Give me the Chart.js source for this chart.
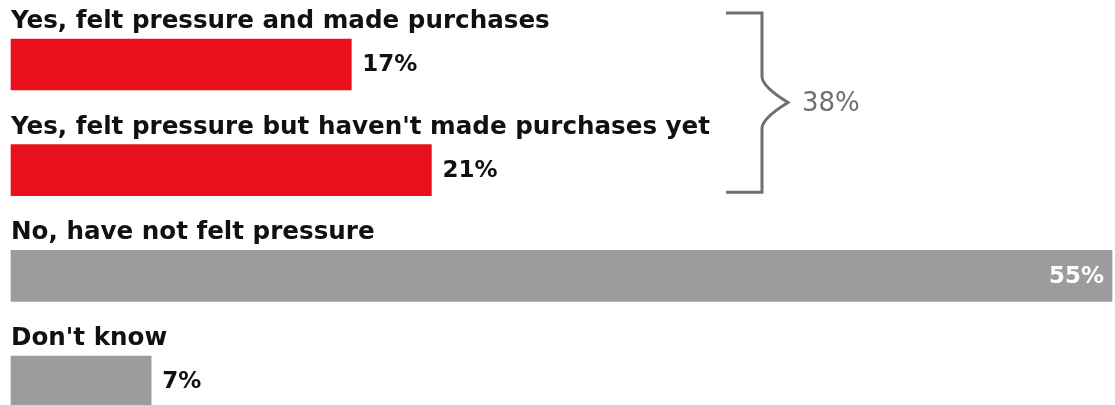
<!DOCTYPE html>
<html>
<head>
<meta charset="utf-8">
<script src="https://cdn.jsdelivr.net/npm/chart.js@4.4.1/dist/chart.umd.min.js"></script>
<style>
    html, body { margin: 0; padding: 0; background: #fff; }
    #wrap { width: 1115px; height: 405px; position: relative; }
</style>
</head>
<body>
<div id="wrap"><canvas id="barChart"></canvas></div>
<script>
// survey answers, top to bottom
const categories = [
    'Yes, felt pressure and made purchases',
    "Yes, felt pressure but haven't made purchases yet",
    'No, have not felt pressure',
    "Don't know"
];
const shares = [17, 21, 55, 7];
const barColors = ['#e8111b', '#e8111b', '#9c9c9c', '#9c9c9c'];
// the two "yes" answers get a brace with their total
const bracketRows = [0, 1];

const FONT = '"DejaVu Sans", sans-serif';

// labels, values and the brace are drawn straight on the canvas
const labelPlugin = {
    id: 'labelPlugin',
    afterDatasetsDraw(chart) {
        const ctx = chart.ctx;
        const meta = chart.getDatasetMeta(0);
        const area = chart.chartArea;
        ctx.save();

        meta.data.forEach((bar, i) => {
            const top = bar.y - bar.height / 2;

            // category name above the bar
            ctx.fillStyle = '#111';
            ctx.font = 'bold 24.6px ' + FONT;
            ctx.textAlign = 'left';
            ctx.textBaseline = 'alphabetic';
            ctx.fillText(categories[i], area.left, top - 11);

            // value: inside the bar when it is wide, otherwise after it
            const txt = shares[i] + '%';
            ctx.font = 'bold 23px ' + FONT;
            ctx.textBaseline = 'middle';
            if (bar.x - bar.base > area.width * 0.8) {
                ctx.fillStyle = '#fff';
                ctx.textAlign = 'right';
                ctx.fillText(txt, bar.x - 8, bar.y + 1);
            } else {
                ctx.fillStyle = '#111';
                ctx.textAlign = 'left';
                ctx.fillText(txt, bar.x + 11, bar.y + 1);
            }
        });

        // brace round the "yes" rows
        const first = meta.data[bracketRows[0]];
        const last = meta.data[bracketRows[bracketRows.length - 1]];
        const y0 = first.y - 51.5;
        const y1 = last.y + 22;
        const mid = (y0 + y1) / 2;
        const x0 = 726, x1 = 762, tip = 788;
        ctx.strokeStyle = '#707070';
        ctx.lineWidth = 3;
        ctx.lineJoin = 'miter';
        ctx.beginPath();
        ctx.moveTo(x0, y0);
        ctx.lineTo(x1, y0);
        ctx.lineTo(x1, mid - 26);
        ctx.quadraticCurveTo(x1, mid - 16, tip, mid);
        ctx.quadraticCurveTo(x1, mid + 16, x1, mid + 26);
        ctx.lineTo(x1, y1);
        ctx.lineTo(x0, y1);
        ctx.stroke();

        const total = bracketRows.reduce((s, r) => s + shares[r], 0);
        ctx.fillStyle = '#707070';
        ctx.font = '26px ' + FONT;
        ctx.textAlign = 'left';
        ctx.textBaseline = 'middle';
        ctx.fillText(total + '%', 802, mid + 2);

        ctx.restore();
    }
};

const ctxBar = document.getElementById('barChart').getContext('2d');
const barChart = new Chart(ctxBar, {
    type: 'bar',
    data: {
        labels: categories,
        datasets: [{
            data: shares,
            backgroundColor: barColors,
            borderWidth: 0,
            barThickness: 51,
            clip: false
        }]
    },
    options: {
        indexAxis: 'y',
        responsive: true,
        maintainAspectRatio: false,
        animation: false,
        layout: {
            padding: { left: 11, right: 3, top: 64.5, bottom: 23.5 }
        },
        scales: {
            x: { min: 0, max: 55, display: false },
            y: { offset: false, display: false }
        },
        plugins: {
            legend: { display: false },
            tooltip: { enabled: false }
        }
    },
    plugins: [labelPlugin]
});
</script>
</body>
</html>
